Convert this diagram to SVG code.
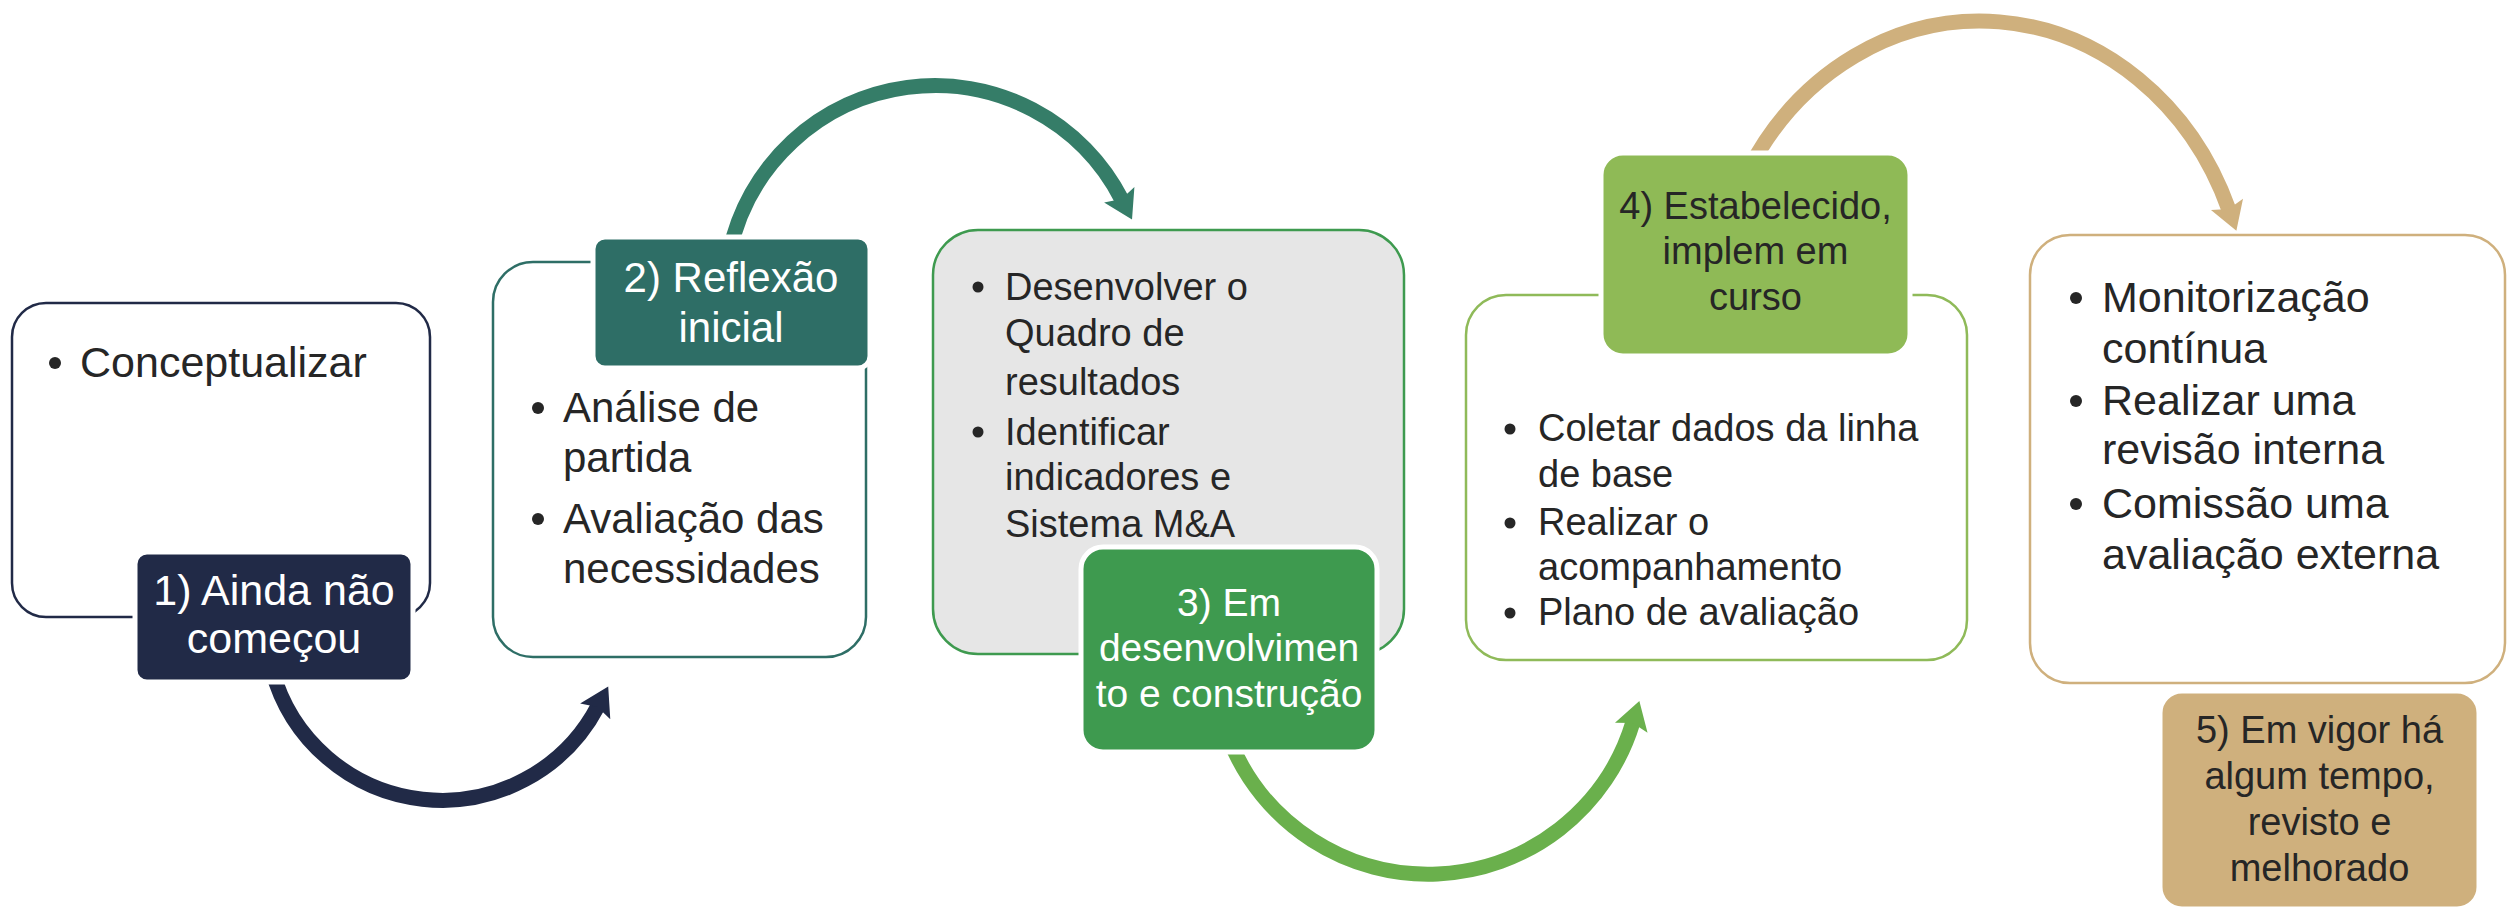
<svg xmlns="http://www.w3.org/2000/svg" width="2507" height="909" viewBox="0 0 2507 909">
<style>
.t{font-family:"Liberation Sans",Arial,sans-serif;fill:#262626}
.w{fill:#ffffff}
.c{text-anchor:middle}
.box{stroke-width:2.5}
.lab{stroke:#ffffff;stroke-width:5}
.arc{fill:none;stroke-width:15}
.dot{fill:#262626}
</style>
<defs>
<marker id="ah1" markerUnits="userSpaceOnUse" markerWidth="40" markerHeight="40" viewBox="-2 -20 40 40" refX="6" refY="0" orient="auto" overflow="visible"><path d="M0,-17 L28,0 L0,17 L5,0 Z" fill="#212a47"/></marker>
<marker id="ah2" markerUnits="userSpaceOnUse" markerWidth="40" markerHeight="40" viewBox="-2 -20 40 40" refX="6" refY="0" orient="auto" overflow="visible"><path d="M0,-17 L28,0 L0,17 L5,0 Z" fill="#357d68"/></marker>
<marker id="ah3" markerUnits="userSpaceOnUse" markerWidth="40" markerHeight="40" viewBox="-2 -20 40 40" refX="6" refY="0" orient="auto" overflow="visible"><path d="M0,-17 L28,0 L0,17 L5,0 Z" fill="#6ab04c"/></marker>
<marker id="ah4" markerUnits="userSpaceOnUse" markerWidth="40" markerHeight="40" viewBox="-2 -20 40 40" refX="6" refY="0" orient="auto" overflow="visible"><path d="M0,-17 L28,0 L0,17 L5,0 Z" fill="#cfb07d"/></marker>
</defs>
<rect width="2507" height="909" fill="#ffffff"/>
<g id="connectors">
<path class="arc" d="M272 669.5 A176 176 0 0 0 598 706" stroke="#212a47" marker-end="url(#ah1)"/>
<path class="arc" d="M729.6 252 A210 210 0 0 1 1122 200" stroke="#357d68" marker-end="url(#ah2)"/>
<path class="arc" d="M1229.6 740 A214 214 0 0 0 1633 722" stroke="#6ab04c" marker-end="url(#ah3)"/>
<path class="arc" d="M1748 171 A268 300 0 0 1 2229 210" stroke="#cfb07d" marker-end="url(#ah4)"/>
</g>
<g id="node1">
<rect class="box" x="12" y="303" width="418" height="314" rx="34" fill="#ffffff" stroke="#212a47"/>
<circle class="dot" cx="55" cy="363" r="6"/>
<text class="t" x="80" y="377" font-size="43">Conceptualizar</text>
<rect class="lab" x="135" y="552" width="278" height="130" rx="12" fill="#212a47"/>
<text class="t w c" font-size="43"><tspan x="274" y="605">1) Ainda não</tspan><tspan x="274" y="653">começou</tspan></text>
</g>
<g id="node2">
<rect class="box" x="493" y="262" width="373" height="395" rx="40" fill="#ffffff" stroke="#2e6e66"/>
<circle class="dot" cx="538" cy="408" r="6"/>
<circle class="dot" cx="538" cy="519" r="6"/>
<text class="t" font-size="42"><tspan x="563" y="422">Análise de</tspan><tspan x="563" y="472">partida</tspan><tspan x="563" y="533">Avaliação das</tspan><tspan x="563" y="583">necessidades</tspan></text>
<rect class="lab" x="593" y="237" width="277" height="131" rx="12" fill="#2e6e66"/>
<text class="t w c" font-size="42"><tspan x="731" y="292">2) Reflexão</tspan><tspan x="731" y="342">inicial</tspan></text>
</g>
<g id="node3">
<rect class="box" x="933" y="230" width="471" height="424" rx="45" fill="#e6e6e6" stroke="#3e9a4f"/>
<circle class="dot" cx="978" cy="287" r="5.5"/>
<circle class="dot" cx="978" cy="432" r="5.5"/>
<text class="t" font-size="38"><tspan x="1005" y="300">Desenvolver o</tspan><tspan x="1005" y="346">Quadro de</tspan><tspan x="1005" y="395">resultados</tspan><tspan x="1005" y="445">Identificar</tspan><tspan x="1005" y="490">indicadores e</tspan><tspan x="1005" y="537">Sistema M&amp;A</tspan></text>
<rect class="lab" x="1081" y="547" width="296" height="205" rx="22" fill="#3e9a4f"/>
<text class="t w c" font-size="39"><tspan x="1229" y="616">3) Em</tspan><tspan x="1229" y="661">desenvolvimen</tspan><tspan x="1229" y="707">to e construção</tspan></text>
</g>
<g id="node4">
<rect class="box" x="1466" y="295" width="501" height="365" rx="40" fill="#ffffff" stroke="#8fba59"/>
<circle class="dot" cx="1510" cy="429" r="5.5"/>
<circle class="dot" cx="1510" cy="523" r="5.5"/>
<circle class="dot" cx="1510" cy="613" r="5.5"/>
<text class="t" font-size="38"><tspan x="1538" y="441">Coletar dados da linha</tspan><tspan x="1538" y="487">de base</tspan><tspan x="1538" y="535">Realizar o</tspan><tspan x="1538" y="580">acompanhamento</tspan><tspan x="1538" y="625">Plano de avaliação</tspan></text>
<rect class="lab" x="1601" y="153" width="309" height="203" rx="22" fill="#8fba56"/>
<text class="t c" font-size="38"><tspan x="1755.5" y="219">4) Estabelecido,</tspan><tspan x="1755.5" y="264">implem em</tspan><tspan x="1755.5" y="310">curso</tspan></text>
</g>
<g id="node5">
<rect class="box" x="2030" y="235" width="475" height="448" rx="40" fill="#ffffff" stroke="#cfb07d"/>
<circle class="dot" cx="2076" cy="298" r="6"/>
<circle class="dot" cx="2076" cy="401" r="6"/>
<circle class="dot" cx="2076" cy="504" r="6"/>
<text class="t" font-size="43"><tspan x="2102" y="312">Monitorização</tspan><tspan x="2102" y="363">contínua</tspan><tspan x="2102" y="415">Realizar uma</tspan><tspan x="2102" y="464">revisão interna</tspan><tspan x="2102" y="518">Comissão uma</tspan><tspan x="2102" y="569">avaliação externa</tspan></text>
<rect class="lab" x="2160" y="691" width="319" height="218" rx="22" fill="#cfb07d"/>
<text class="t c" font-size="38"><tspan x="2319.5" y="743">5) Em vigor há</tspan><tspan x="2319.5" y="789">algum tempo,</tspan><tspan x="2319.5" y="835">revisto e</tspan><tspan x="2319.5" y="881">melhorado</tspan></text>
</g>
</svg>
